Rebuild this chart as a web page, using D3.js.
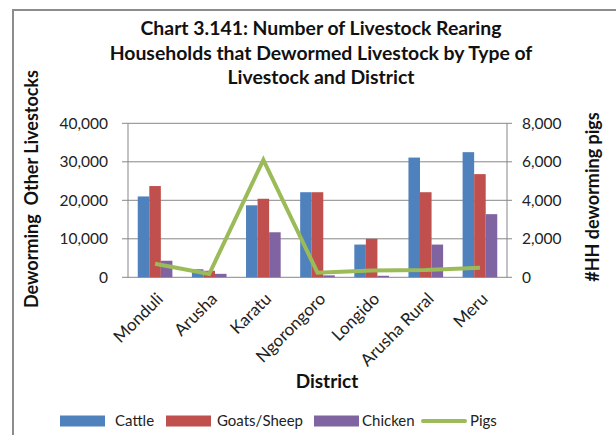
<!DOCTYPE html>
<html><head><meta charset="utf-8">
<script src="https://cdn.jsdelivr.net/npm/d3@7"></script>
<style>body{margin:0;background:#fff}svg{display:block}text{font-family:Lato,"Open Sans",sans-serif}</style>
</head><body><svg id="c" width="616" height="435"></svg>
<script>
const districts = ["Monduli","Arusha","Karatu","Ngorongoro","Longido","Arusha Rural","Meru"];
const cattle = [21000,2100,18700,22100,8500,31100,32500];
const goatsSheep = [23700,1700,20400,22100,10000,22100,26800];
const chicken = [4300,900,11700,500,400,8500,16400];
const pigs = [700,170,6100,240,350,380,500];
const leftTicks = [0,10000,20000,30000,40000];
const rightTicks = [0,2000,4000,6000,8000];
const seriesNames = ["Cattle","Goats/Sheep","Chicken"];
const colors = {"Cattle":"#4F81BD","Goats/Sheep":"#C0504D","Chicken":"#8064A2","Pigs":"#9BBB59"};

const svg = d3.select("#c");
const L=128,R=507,T=123.3,B=277.3;
const fmt = d3.format(",");

// frame
svg.append("rect").attr("x",13).attr("y",10).attr("width",640).attr("height",460)
  .attr("fill","#fff").attr("stroke","#8c8c8c").attr("stroke-width",2);

const x = d3.scaleBand().domain(districts).range([L,R]).paddingInner(0.36).paddingOuter(0.18);
const xs = d3.scaleBand().domain(seriesNames).range([0,x.bandwidth()]);
const yL = d3.scaleLinear().domain([0,40000]).range([B,T]);
const yR = d3.scaleLinear().domain([0,8000]).range([B,T]);

// gridlines
svg.append("g").selectAll("line").data(leftTicks).join("line")
  .attr("x1",L-6).attr("x2",R).attr("y1",d=>yL(d)).attr("y2",d=>yL(d))
  .attr("stroke","#878787").attr("stroke-width",1);
svg.append("line").attr("x1",L).attr("x2",L).attr("y1",T).attr("y2",B).attr("stroke","#878787");
svg.append("line").attr("x1",R).attr("x2",R).attr("y1",T).attr("y2",B).attr("stroke","#878787");
svg.append("g").selectAll("line").data(rightTicks).join("line")
  .attr("x1",R).attr("x2",R+5).attr("y1",d=>yR(d)).attr("y2",d=>yR(d)).attr("stroke","#878787");

// bars
const table = districts.map((d,i)=>({d, vals:[cattle[i],goatsSheep[i],chicken[i]]}));
const g = svg.append("g");
table.forEach(row=>{
  g.selectAll(null).data(seriesNames.map((s,j)=>({s,v:row.vals[j]}))).join("rect")
    .attr("x",e=>x(row.d)+xs(e.s)).attr("width",xs.bandwidth())
    .attr("y",e=>yL(e.v)).attr("height",e=>B-yL(e.v))
    .attr("fill",e=>colors[e.s]);
});
// pigs line
const line = d3.line().x((d,i)=>x(districts[i])+x.bandwidth()/2).y(d=>yR(d));
svg.append("path").datum(pigs).attr("d",line).attr("fill","none")
  .attr("stroke",colors["Pigs"]).attr("stroke-width",4).attr("stroke-linejoin","miter");

// tick labels
svg.append("g").selectAll("text").data(leftTicks).join("text")
  .attr("x",108).attr("y",d=>yL(d)).attr("dy","0.35em").attr("text-anchor","end")
  .attr("font-size",15.5).attr("fill","#222").text(d=>fmt(d));
svg.append("g").selectAll("text").data(rightTicks).join("text")
  .attr("x",522).attr("y",d=>yR(d)).attr("dy","0.35em").attr("text-anchor","start")
  .attr("font-size",15.5).attr("fill","#222").text(d=>fmt(d));

// x labels
svg.append("g").selectAll("text").data(districts).join("text")
  .attr("transform",d=>`translate(${x(d)+x.bandwidth()/2+9},${300}) rotate(-45)`)
  .attr("text-anchor","end").attr("font-size",17).attr("fill","#222").text(d=>d);

// titles
const title = ["Chart 3.141: Number of Livestock Rearing","Households that Dewormed Livestock by Type of","Livestock and District"];
svg.append("g").selectAll("text").data(title).join("text")
  .attr("x",321).attr("y",(d,i)=>35+i*24.7).attr("text-anchor","middle")
  .attr("font-size",19.4).attr("font-weight","bold").attr("fill","#111").text(d=>d);

svg.append("text").attr("transform","translate(38,189) rotate(-90)").attr("text-anchor","middle")
  .attr("font-size",18).attr("font-weight","bold").attr("fill","#111").attr("xml:space","preserve")
  .text("Deworming  Other Livestocks");
svg.append("text").attr("transform","translate(599,197) rotate(-90)").attr("text-anchor","middle")
  .attr("font-size",18).attr("font-weight","bold").attr("fill","#111").text("#HH deworming pigs");
svg.append("text").attr("x",327).attr("y",388).attr("text-anchor","middle")
  .attr("font-size",19).attr("font-weight","bold").attr("fill","#111").text("District");

// legend
const legend = [
  {n:"Cattle",sx:60,tx:115},{n:"Goats/Sheep",sx:166,tx:217},{n:"Chicken",sx:314,tx:362},{n:"Pigs",sx:423,tx:470}];
const lg = svg.append("g");
legend.forEach(e=>{
  if(e.n==="Pigs"){
    lg.append("line").attr("x1",e.sx).attr("x2",e.sx+42).attr("y1",421).attr("y2",421)
      .attr("stroke",colors[e.n]).attr("stroke-width",4).attr("stroke-linecap","round");
  } else {
    lg.append("rect").attr("x",e.sx).attr("y",415.5).attr("width",45).attr("height",11).attr("fill",colors[e.n]);
  }
  lg.append("text").attr("x",e.tx).attr("y",421).attr("dy","0.35em").attr("font-size",15).attr("fill","#222").text(e.n);
});
</script></body></html>
